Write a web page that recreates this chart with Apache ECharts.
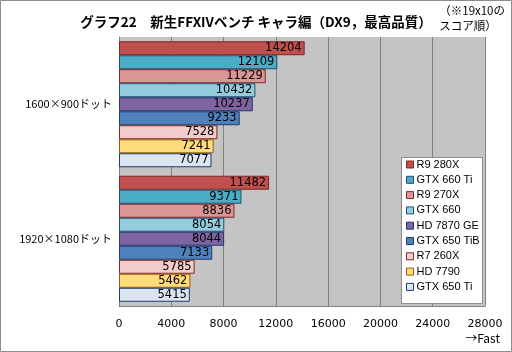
<!DOCTYPE html>
<html>
<head>
<meta charset="utf-8">
<script src="https://cdn.jsdelivr.net/npm/echarts@6/dist/echarts.min.js"></script>
<style>
  html, body { margin: 0; padding: 0; background: #fff; }
  #chart { width: 512px; height: 352px; }
</style>
</head>
<body>
<div id="chart"></div>
<script>
// 解像度ごとのスコア
const categories = ["1600×900ドット", "1920×1080ドット"];
const gpuNames = ["R9 280X", "GTX 660 Ti", "R9 270X", "GTX 660", "HD 7870 GE", "GTX 650 TiB", "R7 260X", "HD 7790", "GTX 650 Ti"];
const scores1600 = [14204, 12109, 11229, 10432, 10237, 9233, 7528, 7241, 7077];
const scores1920 = [11482, 9371, 8836, 8054, 8044, 7133, 5785, 5462, 5415];
const xTicks = [0, 4000, 8000, 12000, 16000, 20000, 24000, 28000];

const fills = ["#C0504D", "#4BACC6", "#D99694", "#93CDDD", "#8064A2", "#4F81BD", "#F2CDCC", "#FFDB7B", "#DCE6F2"];
const borders = ["#7B2826", "#1F4E79", "#7B2826", "#1F4E79", "#1F3A6E", "#1F3A6E", "#7B2826", "#9C5A10", "#1F3A6E"];
const jp = "'Noto Sans CJK JP', sans-serif";
const num = "'DejaVu Sans', 'Noto Sans CJK JP', sans-serif";

const chart = echarts.init(document.getElementById("chart"));
chart.setOption({
  animation: false,
  textStyle: { fontFamily: jp },
  grid: { left: 119, right: 27, top: 37, bottom: 46, show: true, backgroundColor: "#C4C4C4", borderWidth: 0 },
  title: {
    text: "グラフ22　新生FFXIVベンチ キャラ編（DX9，最高品質）",
    left: 251, top: 10, textAlign: "center",
    textStyle: { fontSize: 13.5, fontWeight: "bold", color: "#000", fontFamily: jp }
  },
  graphic: [
    { type: "rect", shape: { x: 0.5, y: 0.5, width: 511, height: 351 }, style: { fill: "none", stroke: "#8C8C8C", lineWidth: 1 }, z: -1 },
    { type: "rect", shape: { x: 401.5, y: 157.5, width: 81, height: 146 }, style: { fill: "#fff", stroke: "#8C8C8C", lineWidth: 1 }, z: 10 },
    { type: "text", right: 7, top: 3, style: { text: "（※19x10の\nスコア順）", align: "right", font: "11.5px " + jp, lineHeight: 15, fill: "#000" }, z: 10 },
    { type: "text", right: 12, top: 332, style: { text: "→Fast", font: "12px " + jp, fill: "#000" }, z: 10 }
  ],
  legend: {
    orient: "vertical", left: 406, top: 159, itemWidth: 7, itemHeight: 7, itemGap: 4.3,
    padding: 0, z: 11,
    textStyle: { fontSize: 11, color: "#000", padding: [0, 0, 0, -2], fontFamily: "'Liberation Sans', 'DejaVu Sans', sans-serif" },
    data: gpuNames.map((n, i) => ({ name: n, icon: "rect", itemStyle: { color: fills[i], borderColor: borders[i], borderWidth: 1 } }))
  },
  xAxis: {
    type: "value", min: 0, max: 28000, interval: 4000,
    axisLine: { show: true, lineStyle: { color: "#808080" } },
    axisTick: { show: false },
    splitLine: { lineStyle: { color: "#808080" } },
    axisLabel: { margin: 13, fontSize: 11, color: "#000", fontFamily: num, formatter: v => xTicks.includes(v) ? String(v) : "" }
  },
  yAxis: {
    type: "category", inverse: true, data: categories,
    axisLine: { show: true, lineStyle: { color: "#808080" } },
    axisTick: { show: false },
    axisLabel: { margin: 7, fontSize: 11, color: "#000", fontFamily: jp }
  },
  series: gpuNames.map((n, i) => ({
    name: n, type: "bar",
    data: [scores1600[i], scores1920[i]],
    barGap: "0%", barCategoryGap: "6.3%",
    itemStyle: { color: fills[i], borderColor: borders[i], borderWidth: 1 },
    label: { show: true, position: "insideRight", distance: 3, fontSize: 11.5, color: "#000", fontFamily: num }
  }))
});
</script>
</body>
</html>
